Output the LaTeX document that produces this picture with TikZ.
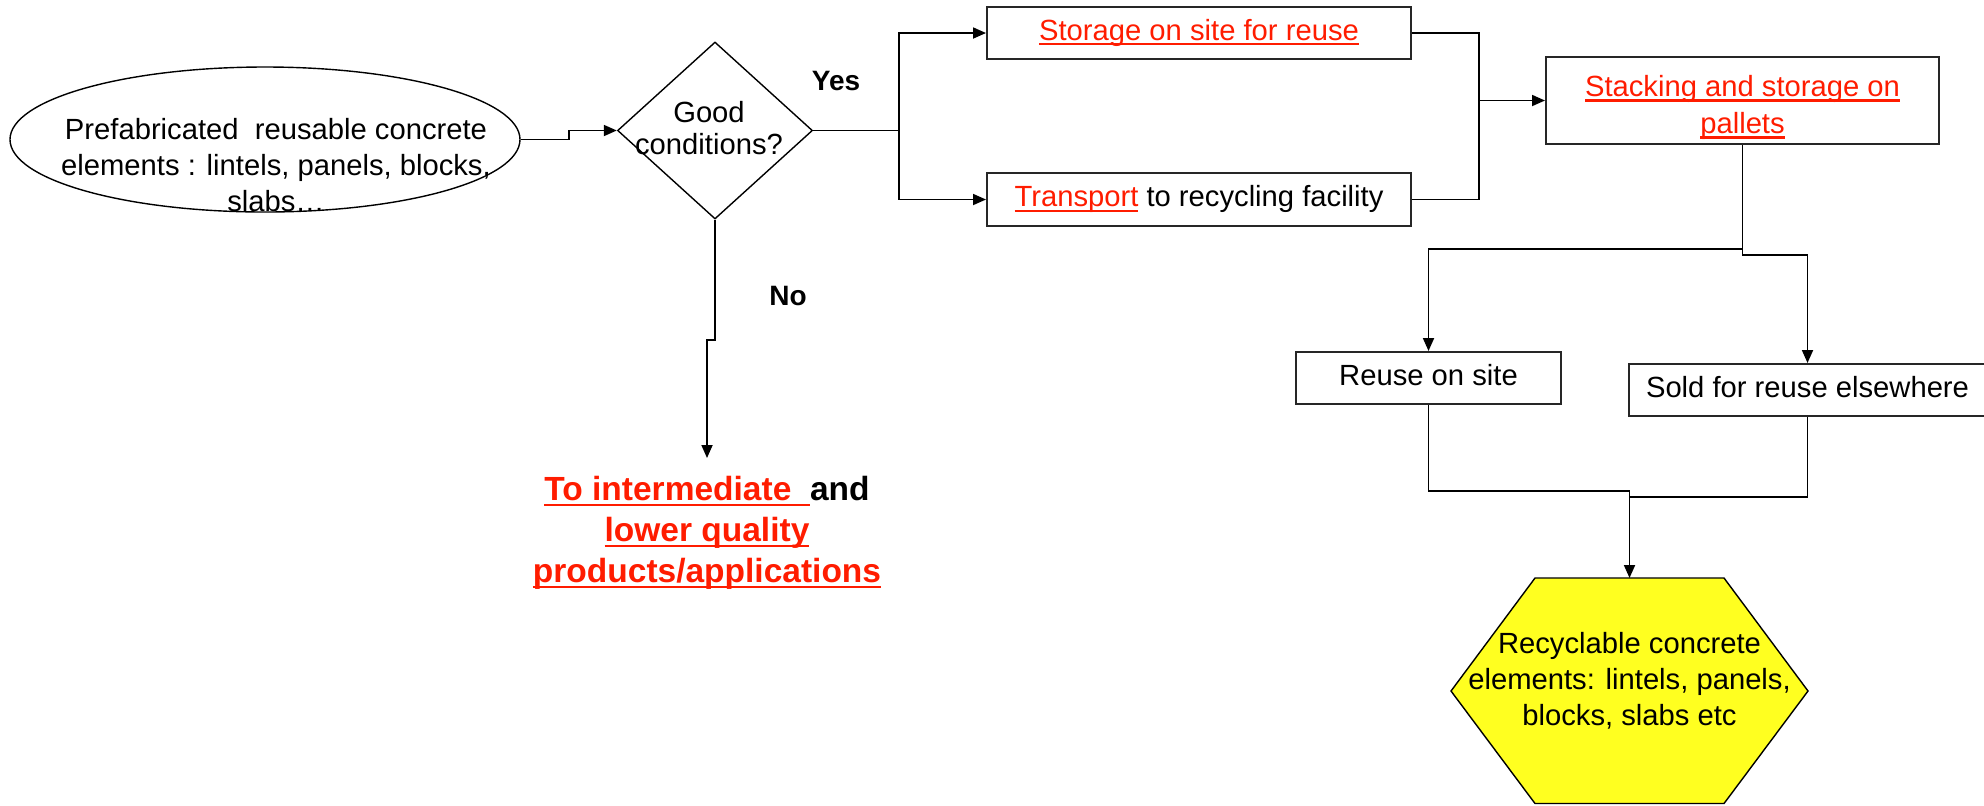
\documentclass[tikz,border=0pt]{standalone}
\usepackage{fontspec}
\setmainfont{Liberation Sans}
\usetikzlibrary{shapes.geometric,arrows.meta}

\definecolor{linkred}{RGB}{255,28,0}
\definecolor{hexyellow}{RGB}{255,255,32}

% red text with an underline just below the baseline
\newsavebox\ulinebox
\newcommand\redline[1]{\sbox\ulinebox{#1}\rlap{\rule[-0.18em]{\wd\ulinebox}{0.08em}}\usebox\ulinebox}
\newcommand\linked[1]{{\color{linkred}\redline{#1}}}

\begin{document}
\begin{tikzpicture}[x=0.5pt,y=-0.5pt,
  every node/.style={font=\fontsize{14.6}{17.5}\selectfont},
  box/.style={draw=black!85, line width=1pt, rectangle, inner sep=0pt,
    text height=0.716em, text depth=0pt},
  outline/.style={draw=black, line width=0.7pt, inner sep=0pt},
  textblock/.style={anchor=north, align=center, inner sep=0pt},
  answer/.style={font=\fontsize{14}{17}\selectfont\bfseries},
  link/.style={line width=0.9pt},
  arr/.style={link, -{Triangle[length=6.5pt,width=5.5pt]}},
  ]
\useasboundingbox (0,0) rectangle (1984,805);

% source element
\node[outline, ellipse, minimum width=255pt, minimum height=72.5pt] (src) at (265,139.5) {};
\node[textblock, font=\fontsize{14.6}{18}\selectfont] (srctext) at (276,118)
  {Prefabricated\ \ reusable concrete\\elements : lintels, panels, blocks,\\slabs…};

% decision
\node[outline, diamond, minimum width=97.5pt, minimum height=88.5pt] (dec) at (715,130.5) {};
\node[textblock, font=\fontsize{14.6}{15.8}\selectfont] (dectext) at (709,101)
  {Good\\conditions?};
\node[answer] (yes) at (836,81) {Yes};
\node[answer] (no) at (788,296) {No};

% "yes" branch
\node[box, minimum width=212pt, minimum height=26pt] (store) at (1199,33)
  {\linked{Storage on site for reuse}};
\node[box, minimum width=212pt, minimum height=26.5pt] (trans) at (1199,199.5)
  {\linked{Transport} to recycling facility};
\node[box, minimum width=196.5pt, minimum height=43.5pt] (stack) at (1742.5,100.5) {};
\node[textblock, font=\fontsize{14.6}{18.5}\selectfont] (stacktext) at (1742.5,75)
  {\linked{Stacking and storage on}\\\linked{pallets}};
\node[box, minimum width=132.5pt, minimum height=26pt] (reuse) at (1428.5,378)
  {Reuse on site};
\node[box, minimum width=178.5pt, minimum height=26pt] (sold) at (1807.5,390)
  {Sold for reuse elsewhere};

% recyclable elements (hexagon)
\draw[line width=0.7pt, fill=hexyellow] (1535,578) -- (1724,578) -- (1808,691)
  -- (1724,803.5) -- (1535,803.5) -- (1451,691) -- cycle;
\coordinate (hextop) at (1629.5,578);
\node[textblock, font=\fontsize{14.6}{18}\selectfont] (hex) at (1629.5,631.5)
  {Recyclable concrete\\elements: lintels, panels,\\blocks, slabs etc};

% "no" branch
\node[textblock, font=\fontsize{16.75}{20.5}\selectfont\bfseries] (lowq) at (707,475.5)
  {\linked{To intermediate\ \ }and\\\linked{lower quality}\\\linked{products/applications}};

% connectors
\draw[arr] (src.east) -- ++(48,0) |- (dec.west);
\coordinate (fork) at (899,130.5);
\draw[link] (dec.east) -- (fork);
\draw[arr] (fork) |- (store.west);
\draw[arr] (fork) |- (trans.west);
\coordinate (merge) at (1479,100.5);
\draw[link] (store.east) -| (merge);
\draw[link] (trans.east) -| (merge);
\draw[arr] (merge) -- (stack.west);
\draw[arr] (stack.south) -- ++(0,104) -| (reuse.north);
\draw[arr] (stack.south) -- ++(0,110) -| (sold.north);
\coordinate (joinA) at (1629.5,491);
\coordinate (joinB) at (1629.5,497);
\draw[link] (reuse.south) |- (joinA);
\draw[link] (sold.south) |- (joinB);
\draw[arr] (joinA) -- (hextop);
\draw[arr, shorten >=8.75pt] (dec.south) -- ++(0,120) -| (lowq.north);
\end{tikzpicture}
\end{document}
